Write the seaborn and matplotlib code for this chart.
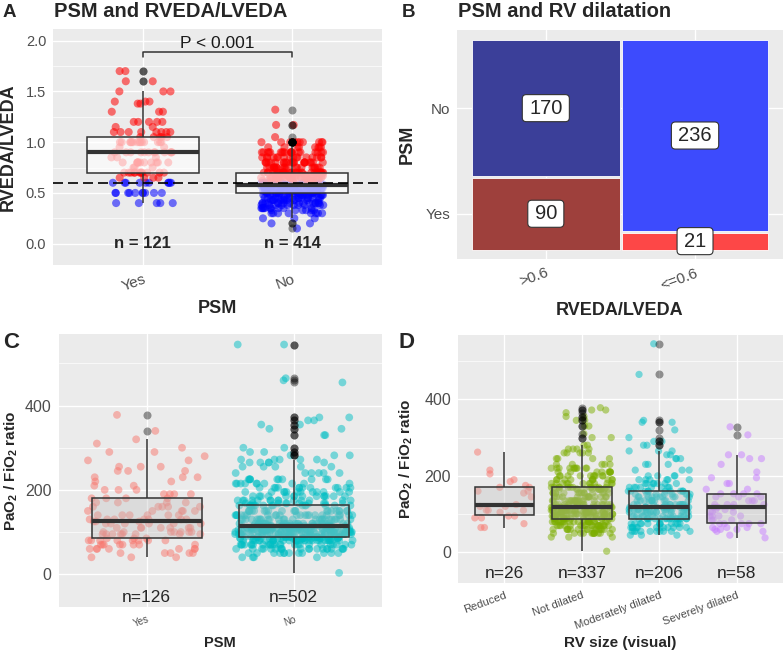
import numpy as np
import pandas as pd
import matplotlib
matplotlib.use('Agg')
import matplotlib.pyplot as plt
from matplotlib.patches import BoxStyle
from matplotlib.ticker import MultipleLocator, NullLocator
import seaborn as sns

# ---------------- data (value -> count) ----------------
# A: RVEDA/LVEDA by PSM
a_groups = ['Yes', 'No']
a_cut = 0.6
a_yes_vals = [0.4, 0.5, 0.6, 0.65, 0.7, 0.75, 0.8, 0.85, 0.9, 0.95, 1.0, 1.05, 1.1,
              1.15, 1.2, 1.3, 1.38, 1.4, 1.5, 1.6, 1.7]
a_yes_cnts = [5, 10, 10, 4, 12, 3, 11, 3, 12, 2, 14, 5, 8, 2, 5, 3, 2, 3, 3, 2, 2]
a_no_vals = [0.15, 0.2, 0.25, 0.3, 0.33, 0.35, 0.38, 0.4, 0.43, 0.45, 0.48, 0.5, 0.52,
             0.55, 0.57, 0.58, 0.6, 0.62, 0.65, 0.67, 0.7, 0.75, 0.8, 0.85, 0.9, 0.95,
             1.0, 1.05, 1.17, 1.32]
a_no_cnts = [1, 2, 3, 8, 6, 10, 10, 16, 12, 16, 14, 22, 18, 24, 20, 26, 16, 14, 24, 18,
             34, 20, 22, 16, 20, 8, 10, 1, 2, 1]

# B: PSM vs RV dilatation (counts)
b_cols = ['>0.6', '<=0.6']
b_yes = [90, 21]
b_no = [170, 236]
b_colors_yes = ['#9E403C', '#FD4747']
b_colors_no = ['#3B3F99', '#3D4BFD']

# C: PaO2/FiO2 by PSM
c_groups = ['Yes', 'No']
c_yes_vals = [40, 50, 60, 70, 80, 85, 95, 100, 110, 120, 125, 130, 140, 150, 160, 170,
              180, 190, 200, 210, 220, 230, 245, 255, 270, 280, 290, 300, 310, 320, 340, 378]
c_yes_cnts = [3, 5, 7, 8, 8, 3, 8, 7, 7, 6, 3, 7, 6, 5, 5, 4, 4, 4, 3, 2, 2, 3, 3, 3, 2,
              1, 2, 1, 1, 1, 1, 1]
c_no_vals = [3, 40, 50, 60, 70, 80, 85, 88, 95, 100, 105, 110, 115, 120, 130, 140, 150,
             163, 168, 175, 185, 195, 205, 215, 225, 240, 255, 265, 272, 282, 290, 300,
             330, 345, 355, 365, 372, 455, 460, 465, 545]
c_no_cnts = [1, 4, 12, 20, 25, 28, 20, 20, 25, 30, 25, 30, 30, 25, 25, 22, 20, 15, 10,
             14, 14, 12, 12, 10, 10, 6, 5, 5, 5, 3, 2, 2, 2, 2, 2, 2, 2, 1, 1, 1, 2]
c_palette = ['#F8766D', '#00BFC4']

# D: PaO2/FiO2 by visual RV size
d_groups = ['Reduced', 'Not dilated', 'Moderately dilated', 'Severely dilated']
d_red_vals = [65, 75, 90, 95, 105, 110, 120, 125, 145, 155, 160, 170, 175, 185, 190, 205, 215, 262]
d_red_cnts = [2, 1, 2, 2, 1, 3, 2, 1, 1, 1, 2, 2, 1, 1, 1, 1, 1, 1]
d_not_vals = [3, 40, 50, 60, 70, 80, 88, 95, 100, 105, 110, 118, 125, 135, 145, 155, 165,
              170, 180, 190, 200, 210, 220, 230, 245, 260, 270, 280, 300, 310, 330, 345,
              355, 365, 372, 378]
d_not_cnts = [1, 3, 12, 15, 18, 22, 14, 16, 18, 16, 18, 16, 16, 16, 14, 14, 12, 12, 12,
              10, 10, 9, 10, 5, 4, 5, 4, 2, 2, 1, 2, 2, 2, 1, 2, 1]
d_mod_vals = [45, 55, 65, 75, 88, 95, 105, 112, 118, 125, 135, 145, 152, 160, 170, 180,
              190, 200, 215, 230, 245, 255, 265, 280, 290, 300, 320, 340, 345, 465, 545]
d_mod_cnts = [3, 10, 12, 12, 16, 12, 14, 12, 14, 12, 11, 10, 8, 10, 8, 7, 6, 4, 3, 3, 3,
              2, 3, 2, 2, 1, 1, 2, 1, 1, 1]
d_sev_vals = [38, 45, 55, 60, 65, 75, 85, 95, 105, 112, 118, 125, 135, 145, 153, 165,
              180, 195, 210, 230, 245, 255, 307, 328]
d_sev_cnts = [1, 1, 2, 3, 3, 5, 3, 4, 3, 2, 3, 4, 3, 3, 4, 2, 2, 2, 1, 1, 2, 2, 1, 1]
d_palette = ['#F8766D', '#7CAE00', '#00BFC4', '#C77CFF']


def expand(groups, vals_list, cnts_list):
    rows = []
    for g, v, c in zip(groups, vals_list, cnts_list):
        rows.append(pd.DataFrame({'grp': g, 'val': np.repeat(v, c)}))
    return pd.concat(rows, ignore_index=True)


df_a = expand(a_groups, [a_yes_vals, a_no_vals], [a_yes_cnts, a_no_cnts])
df_a['dil'] = np.where(df_a['val'] > a_cut + 1e-9, 'high', 'low')
df_c = expand(c_groups, [c_yes_vals, c_no_vals], [c_yes_cnts, c_no_cnts])
df_d = expand(d_groups, [d_red_vals, d_not_vals, d_mod_vals, d_sev_vals],
              [d_red_cnts, d_not_cnts, d_mod_cnts, d_sev_cnts])

# ---------------- styling ----------------
sns.set_style('darkgrid')
plt.rcParams['font.family'] = ['Liberation Sans', 'DejaVu Sans']
plt.rcParams['mathtext.fontset'] = 'custom'
plt.rcParams['mathtext.rm'] = 'Liberation Sans'
plt.rcParams['mathtext.bf'] = 'Liberation Sans:bold'
plt.rcParams['mathtext.default'] = 'bf'
np.random.seed(7)

W, H = 784, 652
fig = plt.figure(figsize=(W / 100, H / 100), dpi=100)


def px_axes(x0, y0, x1, y1):
    return fig.add_axes([x0 / W, 1 - y1 / H, (x1 - x0) / W, (y1 - y0) / H])


def gg_style(ax, tick_size):
    ax.set_facecolor('#EBEBEB')
    for s in ax.spines.values():
        s.set_visible(False)
    ax.set_axisbelow(True)
    ax.grid(True, which='major', color='white', linewidth=1.0)
    ax.grid(True, which='minor', axis='y', color='white', linewidth=0.5)
    ax.xaxis.set_minor_locator(NullLocator())
    ax.tick_params(which='major', length=2.75, width=0.8, color='#333333',
                   labelcolor='#4D4D4D', labelsize=tick_size, pad=2.2)
    ax.tick_params(which='minor', length=0)


def rotate_xlabels(ax, size):
    for lab in ax.get_xticklabels():
        lab.set_rotation(20)
        lab.set_rotation_mode('anchor')
        lab.set_ha('right')
        lab.set_va('top')
        lab.set_fontsize(size)


def box_kws(face, lw=1.1):
    return dict(
        showcaps=False,
        boxprops=dict(facecolor=face, edgecolor='#333333', linewidth=lw, zorder=3),
        whiskerprops=dict(color='#333333', linewidth=lw, zorder=3),
        medianprops=dict(color='#333333', linewidth=3.0, zorder=4),
        flierprops=dict(marker='o', markerfacecolor=(0, 0, 0, 0.4),
                        markeredgecolor='none', markersize=5.8, zorder=4),
    )


_round = BoxStyle.Round(pad=0, rounding_size=0.2)


def label_box(x0, y0, width, height, mutation_size):
    # wider horizontal than vertical padding, like a ggplot label
    px, py = 0.34 * mutation_size, 0.2 * mutation_size
    return _round(x0 - px, y0 - py, width + 2 * px, height + 2 * py, mutation_size)


# ---------------- panel A ----------------
ax = px_axes(53, 29, 382, 265)
sns.stripplot(data=df_a, x='grp', y='val', hue='dil', order=a_groups,
              hue_order=['high', 'low'], palette={'high': '#FF0000', 'low': '#0000FF'},
              jitter=0.21, size=5.8, alpha=0.55, linewidth=0, legend=False, ax=ax, zorder=2)
sns.boxplot(data=df_a, x='grp', y='val', order=a_groups, width=0.75,
            **box_kws((1, 1, 1, 0.65)), ax=ax)
gg_style(ax, 10.5)
ax.set_xlim(-0.6, 1.6)
ax.set_ylim(-0.21, 2.115)
ax.set_yticks([0, 0.5, 1.0, 1.5, 2.0], ['0.0', '0.5', '1.0', '1.5', '2.0'])
ax.yaxis.set_minor_locator(MultipleLocator(0.25))
ax.xaxis.grid(True, which='major', color='white', linewidth=1.0)
ax.axhline(a_cut, color='black', linewidth=1.2, linestyle=(0, (6, 3)), zorder=5)
ax.plot([0, 0, 1, 1], [1.835, 1.89, 1.89, 1.835], color='#333333', linewidth=1.1)
ax.text(0.5, 1.975, 'P < 0.001', ha='center', va='center', fontsize=12.5, color='#1A1A1A')
for i, g in enumerate(a_groups):
    ax.text(i, 0.0, f'n = {(df_a["grp"] == g).sum()}', ha='center', va='center',
            fontsize=12, fontweight='bold')
rotate_xlabels(ax, 11)
ax.set_xlabel('PSM', fontsize=13, fontweight='bold')
ax.set_ylabel('RVEDA/LVEDA', fontsize=13, fontweight='bold')
ax.xaxis.set_label_coords(0.5, -0.148)
ax.yaxis.set_label_coords(-0.109, 0.5)

# ---------------- panel B ----------------
ax = px_axes(457, 30, 783, 259)
gg_style(ax, 11)
totals = np.array(b_yes) + np.array(b_no)
gx, gy = 0.007, 0.01
widths = (1 - gx) * totals / totals.sum()
lefts = np.array([0, widths[0] + gx])
h_yes = (1 - gy) * np.array(b_yes) / totals
h_no = (1 - gy) * np.array(b_no) / totals
ax.bar(lefts, h_yes, width=widths, bottom=0, align='edge', color=b_colors_yes,
       edgecolor='white', linewidth=0.6, zorder=2)
ax.bar(lefts, h_no, width=widths, bottom=h_yes + gy, align='edge', color=b_colors_no,
       edgecolor='white', linewidth=0.6, zorder=2)
for j in range(2):
    for bot, h, n in [(0, h_yes[j], b_yes[j]), (h_yes[j] + gy, h_no[j], b_no[j])]:
        ax.text(lefts[j] + widths[j] / 2, bot + h / 2, str(n), ha='center', va='center',
                fontsize=14.5, zorder=6,
                bbox=dict(boxstyle=label_box, fc='white', ec='#333333', lw=0.8))
ax.set_xlim(-0.05, 1.05)
ax.set_ylim(-0.045, 1.05)
ax.set_xticks(lefts + widths / 2, b_cols)
ax.set_yticks([h_yes[0] / 2, h_yes[0] + gy + h_no[0] / 2], ['Yes', 'No'])
ax.yaxis.set_minor_locator(NullLocator())
rotate_xlabels(ax, 11)
ax.set_xlabel('RVEDA/LVEDA', fontsize=13, fontweight='bold')
ax.set_ylabel('PSM', fontsize=13, fontweight='bold')
ax.xaxis.set_label_coords(0.5, -0.186)
ax.yaxis.set_label_coords(-0.126, 0.5)

# ---------------- panel C ----------------
ylab = r'PaO$_2$ / FiO$_2$ ratio'
ax = px_axes(58.5, 334, 382, 607)
sns.stripplot(data=df_c, x='grp', y='val', hue='grp', order=c_groups, hue_order=c_groups,
              palette=c_palette, jitter=0.4, size=5.6, alpha=0.5, linewidth=0,
              legend=False, ax=ax, zorder=2)
sns.boxplot(data=df_c, x='grp', y='val', order=c_groups, width=0.75,
            **box_kws((0.75, 0.75, 0.75, 0.35)), ax=ax)
gg_style(ax, 11.5)
ax.set_xlim(-0.6, 1.6)
ax.set_ylim(-78, 570)
ax.set_yticks([0, 200, 400])
ax.yaxis.set_minor_locator(MultipleLocator(100))
ax.xaxis.grid(True, which='major', color='white', linewidth=1.0)
for i, g in enumerate(c_groups):
    ax.text(i, -55, f'n={(df_c["grp"] == g).sum()}', ha='center', va='center', fontsize=12.5)
rotate_xlabels(ax, 7)
ax.set_xlabel('PSM', fontsize=10.5, fontweight='bold')
ax.set_ylabel(ylab, fontsize=11, fontweight='bold')
ax.xaxis.set_label_coords(0.5, -0.106)
ax.yaxis.set_label_coords(-0.119, 0.5)

# ---------------- panel D ----------------
ax = px_axes(458, 335, 783, 583)
sns.stripplot(data=df_d, x='grp', y='val', hue='grp', order=d_groups, hue_order=d_groups,
              palette=d_palette, jitter=0.4, size=5.2, alpha=0.5, linewidth=0,
              legend=False, ax=ax, zorder=2)
sns.boxplot(data=df_d, x='grp', y='val', order=d_groups, width=0.77,
            **box_kws((0.75, 0.75, 0.75, 0.35)), ax=ax)
gg_style(ax, 11.5)
ax.set_xlim(-0.6, 3.6)
ax.set_ylim(-80, 568)
ax.set_yticks([0, 200, 400])
ax.yaxis.set_minor_locator(MultipleLocator(100))
ax.xaxis.grid(True, which='major', color='white', linewidth=1.0)
for i, g in enumerate(d_groups):
    ax.text(i, -55, f'n={(df_d["grp"] == g).sum()}', ha='center', va='center', fontsize=12.5)
rotate_xlabels(ax, 8)
ax.set_xlabel('RV size (visual)', fontsize=11, fontweight='bold')
ax.set_ylabel(ylab, fontsize=11, fontweight='bold')
ax.xaxis.set_label_coords(0.5, -0.214)
ax.yaxis.set_label_coords(-0.133, 0.5)


# ---------------- titles and panel letters ----------------
def ftext(x, y, s, size):
    fig.text(x / W, 1 - y / H, s, ha='left', va='baseline', fontsize=size, fontweight='bold')


ftext(3, 16.7, 'A', 13.5)
ftext(54, 16.7, 'PSM and RVEDA/LVEDA', 14.5)
ftext(402, 16.7, 'B', 13.5)
ftext(458, 16.7, 'PSM and RV dilatation', 14.5)
ftext(3, 348, 'C', 16)
ftext(399, 348, 'D', 16)

fig.savefig('out.png', dpi=100)
